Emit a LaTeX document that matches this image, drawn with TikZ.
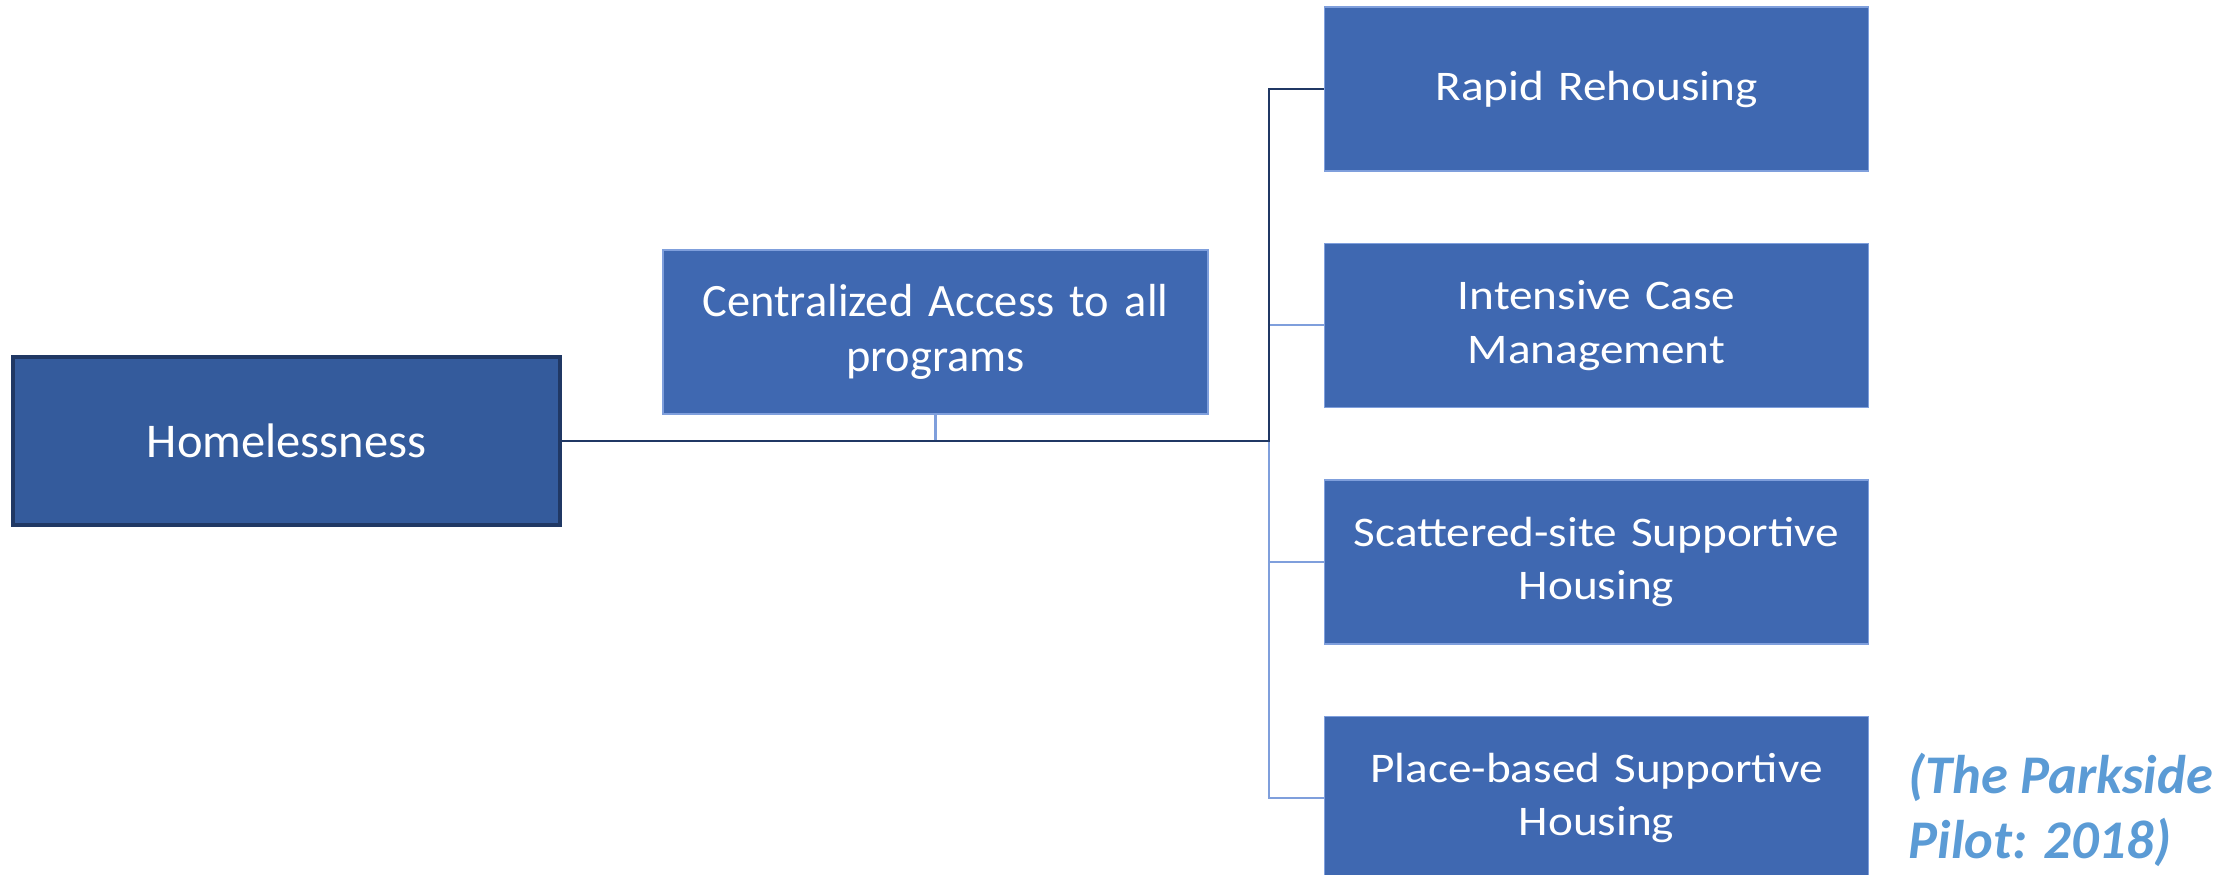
\documentclass[tikz,border=0pt]{standalone}
\usepackage{fontspec}
\setmainfont{Carlito}
\newfontfamily\wideface[FakeStretch=1.12]{Carlito}
\usetikzlibrary{positioning}

\definecolor{boxblue}{HTML}{3F68B1}
\definecolor{homeblue}{HTML}{345B9C}
\definecolor{navy}{HTML}{203864}
\definecolor{paleline}{HTML}{7F9FDC}
\definecolor{citeblue}{HTML}{5B9BD5}

\begin{document}
\begin{tikzpicture}[node distance=0.71cm,
        homebox/.style={rectangle, draw=navy, line width=0.9pt, fill=homeblue, text=white, minimum width=5.47cm, minimum height=1.68cm, align=center, font=\fontsize{13.8}{16.5}\selectfont},
        midbox/.style={rectangle, draw=paleline, line width=0.4pt, fill=boxblue, text=white, minimum width=5.45cm, minimum height=1.64cm, text width=5cm, align=center, font=\fontsize{13.2}{15.5}\selectfont},
        progbox/.style={rectangle, draw=paleline, line width=0.4pt, fill=boxblue, text=white, minimum width=5.43cm, minimum height=1.64cm, text width=5.2cm, align=center, font=\wideface\fontsize{12}{15.2}\selectfont},
        darkline/.style={draw=navy, line width=0.8pt},
        lightline/.style={draw=paleline, line width=0.6pt}]

        \useasboundingbox (0,0) rectangle (22.36,-8.74);

        % Problem
        \node[homebox] (home) at (2.865,-4.41) {Homelessness};

        % Access point
        \node[midbox] (central) at (9.355,-3.32) {Centralized Access to all\\programs};

        % Programs
        \node[progbox] (rapid) at (15.965,-0.89) {Rapid Rehousing};
        \node[progbox, below=of rapid] (intensive) {Intensive Case\\Management};
        \node[progbox, below=of intensive] (scattered) {Scattered-site Supportive\\Housing};
        \node[progbox, below=of scattered] (place) {Place-based Supportive\\Housing};

        % Source
        \node[anchor=west, align=left, inner sep=0pt, text=citeblue, font=\fontsize{15.5}{18.5}\bfseries\itshape\selectfont] (source) at (19.08,-8.10) {(The Parkside\\Pilot: 2018)};

        % Connectors
        \coordinate (trunk) at (12.69,-4.41);
        \draw[lightline] (trunk) |- (place.west);
        \draw[lightline] (trunk |- scattered.west) -- (scattered.west);
        \draw[lightline] (trunk |- intensive.west) -- (intensive.west);
        \draw[lightline] (central.south) -- (central.south |- home.east);
        \draw[darkline] (home.east) -- (trunk) |- (rapid.west);

\end{tikzpicture}
\end{document}
